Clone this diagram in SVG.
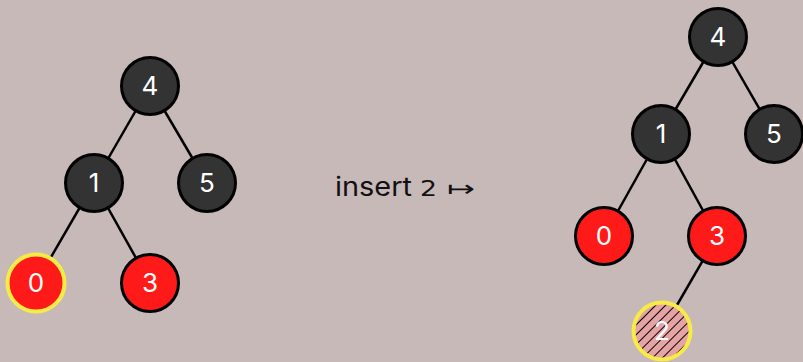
<svg xmlns="http://www.w3.org/2000/svg" width="803" height="362" viewBox="0 0 803 362">
<defs>
<pattern id="hatch" patternUnits="userSpaceOnUse" width="7" height="7" patternTransform="rotate(45)">
<rect width="7" height="7" fill="#e6a3a3"/>
<line x1="0" y1="0" x2="0" y2="7" stroke="#000" stroke-width="2"/>
</pattern>
<style>
.e{stroke:#000;stroke-width:2.5;fill:none}
.b{fill:#333333;stroke:#000;stroke-width:3}
.r{fill:#ff1a1a;stroke:#000;stroke-width:3}
.hl{stroke:#f7ec45;stroke-width:4}
.t{font-family:Inter,"Liberation Sans",sans-serif;font-size:26px;fill:#fff;text-anchor:middle}
.lbl{font-family:Inter,"Liberation Sans",sans-serif;font-size:26px;fill:#111}
</style>
</defs>
<rect width="803" height="362" fill="#c8b9b9"/>
<g id="connectors">
<line class="e" x1="150" y1="86" x2="94" y2="183"/>
<line class="e" x1="150" y1="86" x2="207" y2="183"/>
<line class="e" x1="94" y1="183" x2="36" y2="283"/>
<line class="e" x1="94" y1="183" x2="150" y2="283"/>
<line class="e" x1="718" y1="37" x2="661" y2="134"/>
<line class="e" x1="718" y1="37" x2="774" y2="134"/>
<line class="e" x1="661" y1="134" x2="604" y2="236"/>
<line class="e" x1="661" y1="134" x2="717" y2="236"/>
<line class="e" x1="717" y1="236" x2="662" y2="331"/>
</g>
<g id="L4"><circle class="b" cx="150" cy="86" r="28.5"/><text class="t" x="150" y="95">4</text></g>
<g id="L1"><circle class="b" cx="94" cy="183" r="28.5"/><text class="t" x="94" y="192">1</text></g>
<g id="L5"><circle class="b" cx="207" cy="183" r="28.5"/><text class="t" x="207" y="192">5</text></g>
<g id="L0"><circle class="r hl" cx="36" cy="283" r="28.5"/><text class="t" x="36" y="292">0</text></g>
<g id="L3"><circle class="r" cx="150" cy="283" r="28.5"/><text class="t" x="150" y="292">3</text></g>
<g id="label">
<text class="lbl" x="335" y="196" textLength="77" lengthAdjust="spacingAndGlyphs">insert</text>
<text x="420" y="196" font-family="'DejaVu Sans',sans-serif" font-size="22" fill="#111" textLength="17" lengthAdjust="spacingAndGlyphs">2</text>
<text x="447" y="196" font-family="'DejaVu Sans',sans-serif" font-size="22" fill="#111" textLength="28" lengthAdjust="spacingAndGlyphs">↦</text>
</g>
<g id="R4"><circle class="b" cx="718" cy="37" r="28.5"/><text class="t" x="718" y="46">4</text></g>
<g id="R1"><circle class="b" cx="661" cy="134" r="28.5"/><text class="t" x="661" y="143">1</text></g>
<g id="R5"><circle class="b" cx="774" cy="134" r="28.5"/><text class="t" x="774" y="143">5</text></g>
<g id="R0"><circle class="r" cx="604" cy="236" r="28.5"/><text class="t" x="604" y="245">0</text></g>
<g id="R3"><circle class="r" cx="717" cy="236" r="28.5"/><text class="t" x="717" y="245">3</text></g>
<g id="R2"><circle cx="662" cy="331" r="28.5" fill="url(#hatch)" class="hl"/><text class="t" x="662" y="340">2</text></g>
</svg>
